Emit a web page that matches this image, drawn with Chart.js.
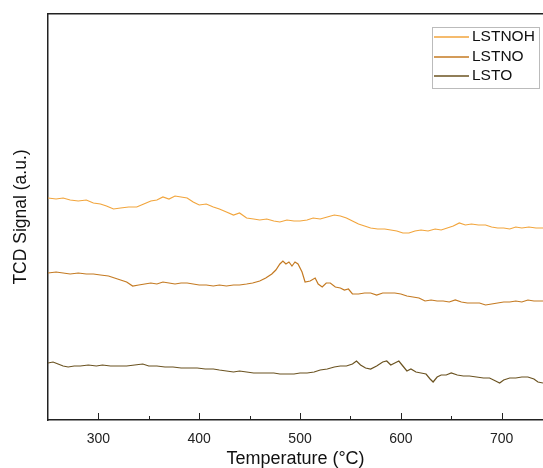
<!DOCTYPE html>
<html>
<head>
<meta charset="utf-8">
<script src="https://cdn.jsdelivr.net/npm/chart.js@4"></script>
<style>
  html, body { margin: 0; padding: 0; background: #fff; }
  #wrap { width: 543px; height: 468px; }
</style>
</head>
<body>
<div id="wrap"><canvas id="tcdChart"></canvas></div>
<script>
// Signal values are in arbitrary units (offset per curve)
const seriesNames = ["LSTNOH", "LSTNO", "LSTO"];
const seriesColors = ["#f2a53c", "#c47a22", "#6b5321"];

const tempNOH = [250, 258, 265, 272, 280, 288, 295, 302, 308, 315, 322, 330, 338, 345, 352, 358, 364, 370, 376, 382, 388, 394, 400, 407, 414, 420, 427, 434, 440, 447, 454, 460, 467, 474, 480, 487, 494, 500, 507, 513, 520, 527, 534, 540, 546, 552, 558, 564, 570, 577, 584, 590, 596, 602, 608, 614, 620, 627, 634, 640, 646, 652, 658, 664, 670, 677, 684, 690, 696, 702, 708, 714, 720, 727, 734, 741];
const sigNOH = [222, 221, 222, 220, 219, 220, 217, 216, 214, 211, 212, 213, 213, 216, 219, 220, 223, 221, 224, 223, 222, 218, 215, 216, 213, 211, 208, 205, 207, 202, 201, 200, 201, 199, 198, 200, 199, 199, 200, 202, 201, 203, 205, 204, 202, 199, 196, 194, 192, 191, 191, 190, 189, 187, 187, 189, 190, 189, 191, 190, 192, 194, 197, 195, 196, 195, 195, 193, 192, 192, 191, 193, 192, 193, 192, 192];

const tempNO = [250, 258, 265, 272, 280, 288, 295, 302, 310, 316, 322, 328, 334, 340, 346, 352, 358, 364, 370, 376, 382, 388, 394, 400, 407, 414, 420, 427, 434, 440, 447, 453, 460, 466, 472, 476, 480, 483, 486, 489, 492, 495, 498, 502, 505, 510, 515, 518, 522, 526, 530, 535, 540, 544, 548, 552, 558, 564, 570, 576, 582, 588, 594, 600, 606, 612, 618, 624, 630, 636, 642, 648, 654, 660, 666, 672, 678, 684, 690, 696, 702, 708, 714, 720, 726, 732, 741];
const sigNO = [147, 148, 147, 146, 147, 146, 146, 145, 144, 142, 140, 138, 134, 135, 136, 137, 136, 138, 137, 136, 137, 137, 136, 135, 135, 134, 135, 134, 135, 135, 136, 137, 139, 142, 146, 150, 156, 159, 156, 158, 154, 158, 156, 148, 138, 139, 142, 136, 133, 137, 137, 133, 132, 130, 131, 126, 126, 127, 127, 125, 127, 127, 127, 126, 124, 123, 122, 119, 120, 119, 119, 118, 120, 118, 117, 117, 117, 115, 116, 117, 118, 118, 119, 118, 120, 119, 119];

const tempO = [250, 255, 260, 265, 270, 276, 282, 290, 298, 304, 312, 320, 328, 336, 344, 350, 358, 366, 374, 382, 390, 398, 406, 414, 420, 427, 434, 440, 447, 454, 460, 467, 474, 480, 487, 494, 500, 507, 514, 520, 527, 534, 540, 546, 552, 556, 560, 565, 570, 576, 582, 586, 590, 594, 598, 602, 606, 610, 615, 620, 625, 629, 632, 636, 640, 645, 650, 656, 662, 668, 675, 682, 688, 694, 698, 702, 708, 714, 720, 726, 732, 736, 741];
const sigO = [57, 58, 56, 54, 53, 54, 54, 55, 54, 55, 54, 54, 54, 55, 56, 54, 54, 53, 53, 52, 52, 52, 51, 51, 50, 49, 48, 49, 48, 47, 47, 47, 47, 46, 46, 46, 47, 47, 48, 50, 51, 53, 54, 54, 56, 59, 55, 52, 51, 54, 58, 59, 55, 57, 59, 54, 49, 51, 48, 47, 46, 41, 38, 43, 45, 45, 47, 45, 44, 44, 43, 42, 42, 39, 37, 40, 42, 42, 43, 43, 41, 38, 37];

const xMin = 250;
const xMax = 741;
const xTickLabels = [300, 400, 500, 600, 700];

function toPoints(xs, ys) {
  return xs.map((x, i) => ({ x: x, y: ys[i] }));
}

// inward ticks on the bottom axis and the boxed legend
const decorPlugin = {
  id: "decor",
  afterDraw(chart) {
    const ctx = chart.ctx;
    const xs = chart.scales.x;
    const area = chart.chartArea;
    ctx.save();
    ctx.strokeStyle = "#222";
    ctx.lineWidth = 1;
    for (let t = 300; t <= xMax; t += 50) {
      const px = Math.round(xs.getPixelForValue(t)) + 0.5;
      const len = t % 100 === 0 ? 7 : 4;
      ctx.beginPath();
      ctx.moveTo(px, area.bottom);
      ctx.lineTo(px, area.bottom - len);
      ctx.stroke();
    }

    // legend
    ctx.strokeStyle = "#bbb";
    ctx.strokeRect(432.5, 27.5, 107, 61);
    ctx.font = "15.5px 'Liberation Sans', Arial, sans-serif";
    ctx.textBaseline = "middle";
    ctx.lineWidth = 1.3;
    seriesNames.forEach((name, i) => {
      const y = Math.round(37 + i * 19.5);
      ctx.strokeStyle = seriesColors[i];
      ctx.beginPath();
      ctx.moveTo(434, y);
      ctx.lineTo(469, y);
      ctx.stroke();
      ctx.fillStyle = "#111";
      ctx.fillText(name, 472, y);
    });
    ctx.restore();
  },
};

const ctx = document.getElementById("tcdChart").getContext("2d");
window.tcdChart = new Chart(ctx, {
  type: "line",
  data: {
    datasets: [
      {
        label: seriesNames[0],
        data: toPoints(tempNOH, sigNOH),
        borderColor: seriesColors[0],
        borderWidth: 1.2,
        pointRadius: 0,
      },
      {
        label: seriesNames[1],
        data: toPoints(tempNO, sigNO),
        borderColor: seriesColors[1],
        borderWidth: 1.2,
        pointRadius: 0,
      },
      {
        label: seriesNames[2],
        data: toPoints(tempO, sigO),
        borderColor: seriesColors[2],
        borderWidth: 1.2,
        pointRadius: 0,
      },
    ],
  },
  options: {
    responsive: true,
    maintainAspectRatio: false,
    animation: false,
    layout: { padding: { top: 14, right: 0, left: 0, bottom: 0 } },
    plugins: {
      legend: { display: false },
      tooltip: { enabled: false },
    },
    scales: {
      x: {
        type: "linear",
        min: xMin,
        max: xMax,
        afterBuildTicks: (scale) => {
          scale.ticks = xTickLabels.map((v) => ({ value: v }));
        },
        afterFit: (scale) => {
          scale.height = 48;
        },
        grid: { display: false, drawTicks: false },
        border: { display: true, color: "#222", width: 1.5 },
        ticks: {
          padding: 11,
          color: "#222",
          font: { family: "'Liberation Sans', Arial, sans-serif", size: 14 },
        },
        title: {
          display: true,
          text: "Temperature (°C)",
          color: "#111",
          padding: { top: 0, bottom: -2 },
          font: { family: "'Liberation Sans', Arial, sans-serif", size: 18 },
        },
      },
      xTop: {
        type: "linear",
        position: "top",
        min: xMin,
        max: xMax,
        afterFit: (scale) => {
          scale.height = 0;
        },
        grid: { display: false, drawTicks: false },
        border: { display: true, color: "#222", width: 1.5 },
        ticks: { display: false },
      },
      y: {
        min: 0,
        max: 406,
        afterFit: (scale) => {
          scale.width = 48;
        },
        grid: { display: false, drawTicks: false },
        border: { display: true, color: "#222", width: 1.5 },
        ticks: { display: false },
        title: {
          display: true,
          text: "TCD Signal (a.u.)",
          color: "#111",
          padding: { top: 11, bottom: 0 },
          font: { family: "'Liberation Sans', Arial, sans-serif", size: 17.5 },
        },
      },
    },
  },
  plugins: [decorPlugin],
});
</script>
</body>
</html>
